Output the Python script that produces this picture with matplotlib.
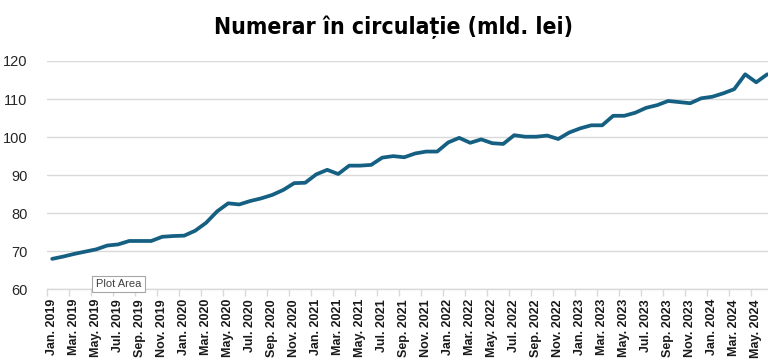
import matplotlib
matplotlib.use("Agg")
import matplotlib.pyplot as plt
from matplotlib.ticker import FixedLocator, NullFormatter

plt.rcParams["font.family"] = ["Liberation Sans", "DejaVu Sans"]

years = list(range(2019, 2025))
month_abbr = ["Jan.", "Feb.", "Mar.", "Apr.", "May.", "Jun.", "Jul.", "Aug.", "Sep.", "Oct.", "Nov.", "Dec."]
months = [f"{m} {y}" for y in years for m in month_abbr][:66]

values = [68.0, 68.6, 69.3, 69.9, 70.5, 71.5, 71.8, 72.7, 72.7, 72.7,
          73.8, 74.0, 74.1, 75.4, 77.5, 80.5, 82.6, 82.3, 83.2, 83.9,
          84.8, 86.1, 87.9, 88.0, 90.2, 91.4, 90.3, 92.5, 92.5, 92.7,
          94.6, 95.0, 94.7, 95.7, 96.2, 96.2, 98.6, 99.8, 98.5, 99.4,
          98.4, 98.2, 100.5, 100.1, 100.1, 100.4, 99.5, 101.2, 102.3, 103.1,
          103.1, 105.6, 105.6, 106.4, 107.7, 108.4, 109.5, 109.2, 108.9, 110.2,
          110.6, 111.5, 112.6, 116.5, 114.4, 116.5]

y_ticks = [60, 70, 80, 90, 100, 110, 120]
title = "Numerar în circulație (mld. lei)"

W, H = 768, 362
fig = plt.figure(figsize=(W / 100, H / 100), dpi=100)
left_px, right_px, top_px, bottom_px = 46.7, 768, 61, 289.3
ax = fig.add_axes([left_px / W, 1 - bottom_px / H, (right_px - left_px) / W, (bottom_px - top_px) / H])

x = list(range(len(values)))
ax.plot(x, values, color="#156082", lw=2.7, solid_joinstyle="round", solid_capstyle="round", clip_on=False, zorder=3)

step = 11.0
ax.set_xlim(-0.5, -0.5 + (right_px - left_px) / step)
ax.set_ylim(60, 120)

ax.set_yticks(y_ticks)
ax.set_yticklabels([str(v) for v in y_ticks])
ax.tick_params(axis="y", length=0, pad=14, labelsize=10.5, labelcolor="#262626")
ax.grid(axis="y", color="#d9d9d9", lw=1.0, zorder=0)
ax.set_axisbelow(True)

label_pos = x[::2]
ax.xaxis.set_major_locator(FixedLocator(label_pos))
ax.set_xticklabels([months[i] for i in label_pos], rotation=90, fontsize=9, fontweight="bold", color="#1a1a1a")
ax.tick_params(axis="x", which="major", length=0, pad=7)
ax.xaxis.set_minor_locator(FixedLocator([i - 0.5 for i in label_pos]))
ax.xaxis.set_minor_formatter(NullFormatter())
ax.tick_params(axis="x", which="minor", length=5, color="#d9d9d9", width=1)

for s in ["top", "right", "left"]:
    ax.spines[s].set_visible(False)
ax.spines["bottom"].set_color("#d9d9d9")
ax.spines["bottom"].set_linewidth(1.0)

fig.text(393 / W, 1 - 27 / H, title, ha="center", va="center", fontsize=16.5, fontweight="bold",
         fontstretch="condensed", family=["DejaVu Sans", "Liberation Sans"], color="#000000")

fig.text(118.5 / W, 1 - 284 / H, "Plot Area", ha="center", va="center", fontsize=8, color="#404040",
         bbox=dict(boxstyle="square,pad=0.3", fc="white", ec="#a6a6a6", lw=0.8))

fig.savefig("out.png", dpi=100)
